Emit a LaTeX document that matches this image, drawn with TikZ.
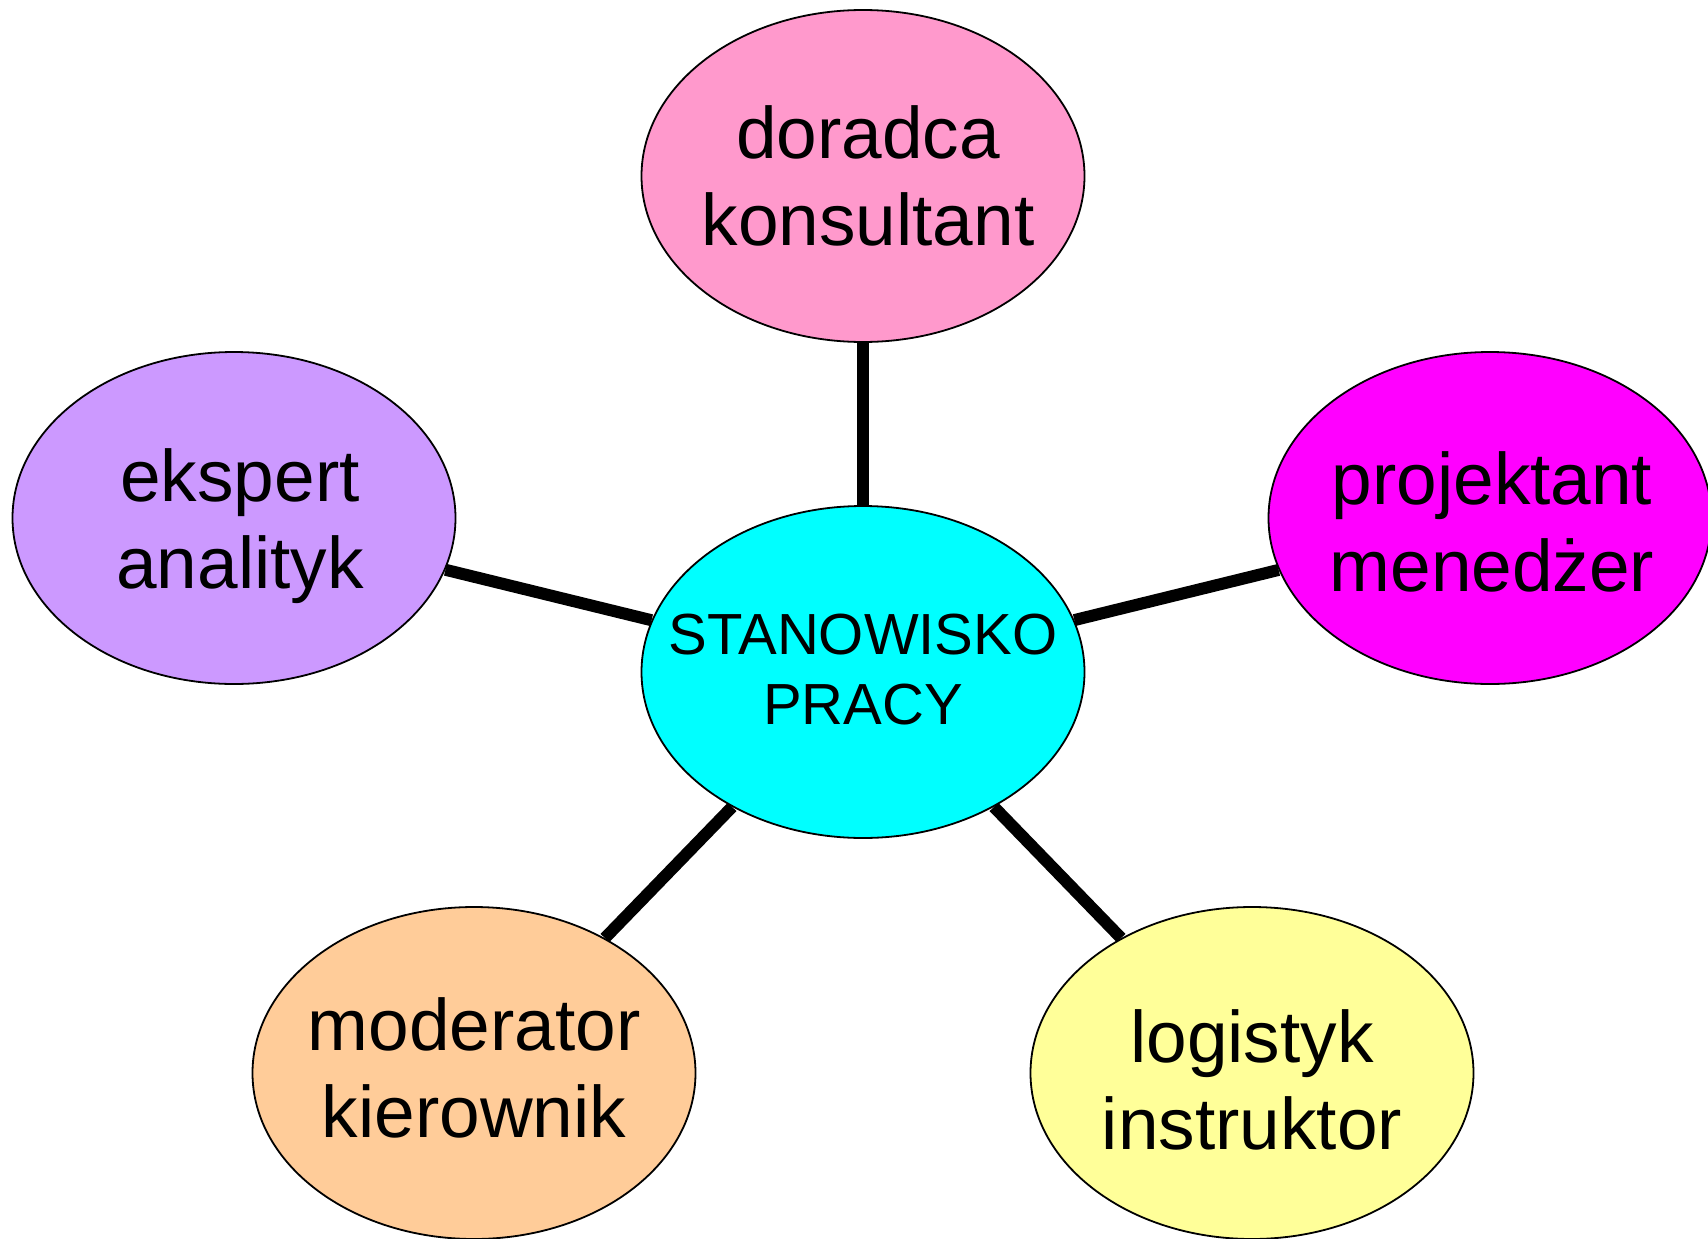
\documentclass[tikz,border=0pt]{standalone}
\usepackage{fontspec}
\setmainfont{Liberation Sans}
\usetikzlibrary{shapes.geometric}
\definecolor{cpink}{HTML}{FF99CC}
\definecolor{cviolet}{HTML}{CC99FF}
\definecolor{cmag}{HTML}{FF00FF}
\definecolor{ccyan}{HTML}{00FFFF}
\definecolor{cpeach}{HTML}{FFCC99}
\definecolor{cyel}{HTML}{FFFF99}
\tikzset{
  bubble/.style={ellipse, draw=black, line width=1.8pt, minimum width=443pt, minimum height=332pt,
    inner sep=0pt},
  txt/.style={align=center, inner sep=0pt, font=\fontsize{73}{87}\selectfont},
  hubtxt/.style={align=center, inner sep=0pt, font=\fontsize{58}{70}\selectfont},
  link/.style={line width=12pt, draw=black}
}
\begin{document}
\begin{tikzpicture}[x=1pt,y=-1pt]
\useasboundingbox (0,0) rectangle (1708,1239);
\node[bubble, fill=ccyan] (c) at (863,672) {};
\node[bubble, fill=cpink] (t) at (863,176) {};
\node[bubble, fill=cviolet] (l) at (234,518) {};
\node[bubble, fill=cmag] (r) at (1490,518) {};
\node[bubble, fill=cpeach] (bl) at (474,1073) {};
\node[bubble, fill=cyel] (br) at (1252,1073) {};
\node[hubtxt] (ct) at (863,670) {STANOWISKO\\PRACY};
\node[txt] (tt) at (868,176) {doradca\\konsultant};
\node[txt] (lt) at (240,526) {ekspert\\analityk};
\node[txt] (rt) at (1492,522) {projektant\\menedżer};
\node[txt] (blt) at (474,1068) {moderator\\kierownik};
\node[txt] (brt) at (1252,1080) {logistyk\\instruktor};
\draw[link] (c) -- (t);
\draw[link] (c) -- (l);
\draw[link] (c) -- (r);
\draw[link] (c) -- (bl);
\draw[link] (c) -- (br);
\end{tikzpicture}
\end{document}
